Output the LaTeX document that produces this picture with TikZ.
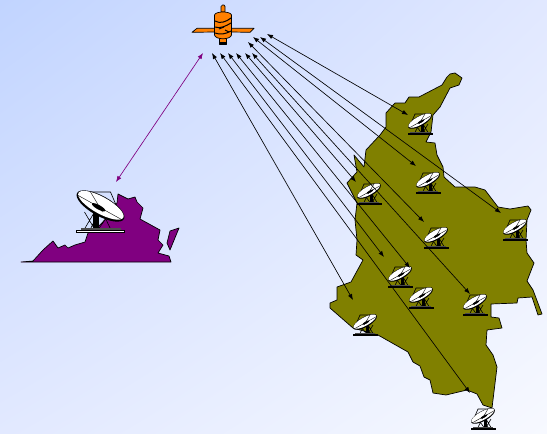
\documentclass[tikz,border=0pt]{standalone}
\usetikzlibrary{arrows.meta,shadings}
\definecolor{landolive}{RGB}{128,128,0}
\definecolor{landpurple}{RGB}{128,0,128}
\definecolor{satorange}{RGB}{255,128,0}
\definecolor{bgtl}{RGB}{193,212,255}
\definecolor{bgtr}{RGB}{225,232,255}
\definecolor{bgbl}{RGB}{226,233,255}
\definecolor{bgbr}{RGB}{247,249,255}
\tikzset{
  land/.style={draw=black,line width=0.7pt,line join=round},
  link/.style={draw=black,line width=0.65pt,{Latex[length=6pt,width=4.5pt]}-{Latex[length=6pt,width=4.5pt]}},
  uplink/.style={link,draw=landpurple,{Latex[length=6pt,width=4.5pt,fill=landpurple]}-{Latex[length=6pt,width=4.5pt,fill=landpurple]}},
  satpart/.style={draw=black,line width=0.7pt,fill=satorange,line join=round},
  satline/.style={draw=black,line width=1pt},
  dishline/.style={black,line width=0.6pt},
}
\newcommand{\dishdraw}{%
  \draw[dishline] (-11,-6) -- (-5,-20) -- (5,-20) -- (11,-20);
  \draw[dishline] (-5,-1.5) -- (-1,-10) (1,-10) -- (5,-1.5) (-5,-10) -- (1,-1.5) (8,-10)--(3,-1.5) (3,-10)--(8,-1.5);
  \fill[black] (1,-10) rectangle (4,-1.5);
  \fill[black!70] (-10,-2.2) rectangle (10,-1);
  \draw[black,line width=0.7pt,fill=white] (-12,-1) rectangle (12,0.4);
  \begin{scope}[shift={(0,-13)},rotate=29]
    \fill[black] (0,0) ellipse [x radius=13.4,y radius=5];
    \fill[white] (0,-0.4) ellipse [x radius=12.8,y radius=4.2];
    \fill[black] (0.5,1) ellipse [x radius=3.8,y radius=1.1];
    \draw[black,line width=0.4pt] (-13,0.8) -- (13,0.8);
  \end{scope}
  \draw[black,line width=0.4pt] (5,-20) -- (-1,-10);
}
\begin{document}
\begin{tikzpicture}[x=1pt,y=-1pt]
\useasboundingbox (0,0) rectangle (547,434);
\shade[upper left=bgtl,upper right=bgtr,lower left=bgbl,lower right=bgbr] (0,0) rectangle (547,434);

% Virginia
\path[land,fill=landpurple] (21,262) -- (33,261) -- (43,250) -- (53,241) -- (58,248) -- (65,245) -- (68,248) -- (75,245) -- (85,242) -- (88,233) -- (100,225) -- (112,212) -- (117,203) -- (118,194) -- (128,199) -- (135,197) -- (137,202) -- (143,208) -- (140,219) -- (160,230) -- (158,240) -- (163,245) -- (158,253) -- (169,256) -- (171,262) -- cycle;
\path[land,fill=landpurple] (170,231) -- (179,228) -- (170,250) -- (167,243) -- cycle;

% Colombia
\path[land,fill=landolive] (450,74) -- (455,73) -- (462,78) -- (459,85) -- (450,88) -- (440,107) -- (433,115) -- (431,132) -- (426,142) -- (435,143) -- (437,155) -- (443,167) -- (444,177) -- (455,187) -- (475,187) -- (485,190) -- (498,207) -- (510,209) -- (528,206) -- (531,210) -- (527,220) -- (526,240) -- (527,253) -- (534,263) -- (527,281) -- (533,290) -- (542,314) -- (538,315) -- (532,297) -- (518,298) -- (517,303) -- (491,304) -- (491,317) -- (499,318) -- (502,328) -- (487,330) -- (486,345) -- (493,355) -- (497,367) -- (492,408) -- (483,405) -- (477,394) -- (467,390) -- (446,395) -- (433,393) -- (430,380) -- (424,377) -- (420,366) -- (413,362) -- (408,352) -- (378,335) -- (353,328) -- (330,308) -- (330,303) -- (337,300) -- (337,287) -- (351,282) -- (363,260) -- (356,255) -- (357,240) -- (355,220) -- (357,203) -- (347,183) -- (357,172) -- (354,155) -- (364,167) -- (366,150) -- (380,135) -- (386,127) -- (386,113) -- (395,103) -- (405,103) -- (409,97) -- (419,97) -- (442,85) -- (447,77) -- cycle;

% Dishes
\begin{scope}[shift={(100.5,232)},xscale=-2,yscale=2]\dishdraw\end{scope}
\foreach \dx/\dy in {420/134,428/193,369/204,515/240,436/248,400/287,421/308,475/315,365/335,483/429}{
  \begin{scope}[shift={(\dx,\dy)}]\dishdraw\end{scope}
}

% Satellite
\path[satpart] (192,32.3) -- (197,28.3) -- (215,28.3) -- (215,32) -- cycle;
\path[satpart] (231,28.3) -- (254,28.3) -- (250,32.3) -- (231,32) -- cycle;
\path[satpart] (221,12) -- (221,6.5) -- (222.5,5) -- (224,5) -- (225,6.5) -- (225,12) -- cycle;
\path[satpart] (219,37) rectangle (226.5,44);
\fill[black] (219,41.5) rectangle (226.5,44);
\path[satpart] (214.5,15) .. controls (215.5,11) and (230.5,11) .. (231.5,15) -- (231.5,35) .. controls (230.5,40) and (215.5,40) .. (214.5,35) -- cycle;
\draw[satline] (215,21) .. controls (220,24) and (226,22) .. (231,18);
\draw[satline] (215,27) .. controls (220,29) and (226,26) .. (231,23);
\draw[satline] (219,29) -- (224,27) (225,30) -- (229,32);
\draw[satline] (215,33) .. controls (220,35) and (226,34) .. (231,31);

% Link end points
\coordinate (ps) at (203,53);   \coordinate (pd) at (116,182);
\coordinate (s1) at (212,53);   \coordinate (e1) at (353,300);
\coordinate (s2) at (220,53);   \coordinate (e2) at (470,393);
\coordinate (s3) at (228,53);   \coordinate (e3) at (384,257);
\coordinate (s4) at (236,53);   \coordinate (e4) at (410,268);
\coordinate (s5) at (245,53);   \coordinate (e5) at (356,182);
\coordinate (s6) at (252,53);   \coordinate (e6) at (470,294);
\coordinate (s7) at (248,42);   \coordinate (e7) at (424,222);
\coordinate (s8) at (253,37);   \coordinate (e8) at (416,166);
\coordinate (s9) at (260,37);   \coordinate (e9) at (501,213);
\coordinate (s10) at (267,34);  \coordinate (e10) at (408,115);
\draw[uplink] (ps) -- (pd);
\foreach \i in {1,...,10}{\draw[link] (s\i) -- (e\i);}
\end{tikzpicture}
\end{document}
